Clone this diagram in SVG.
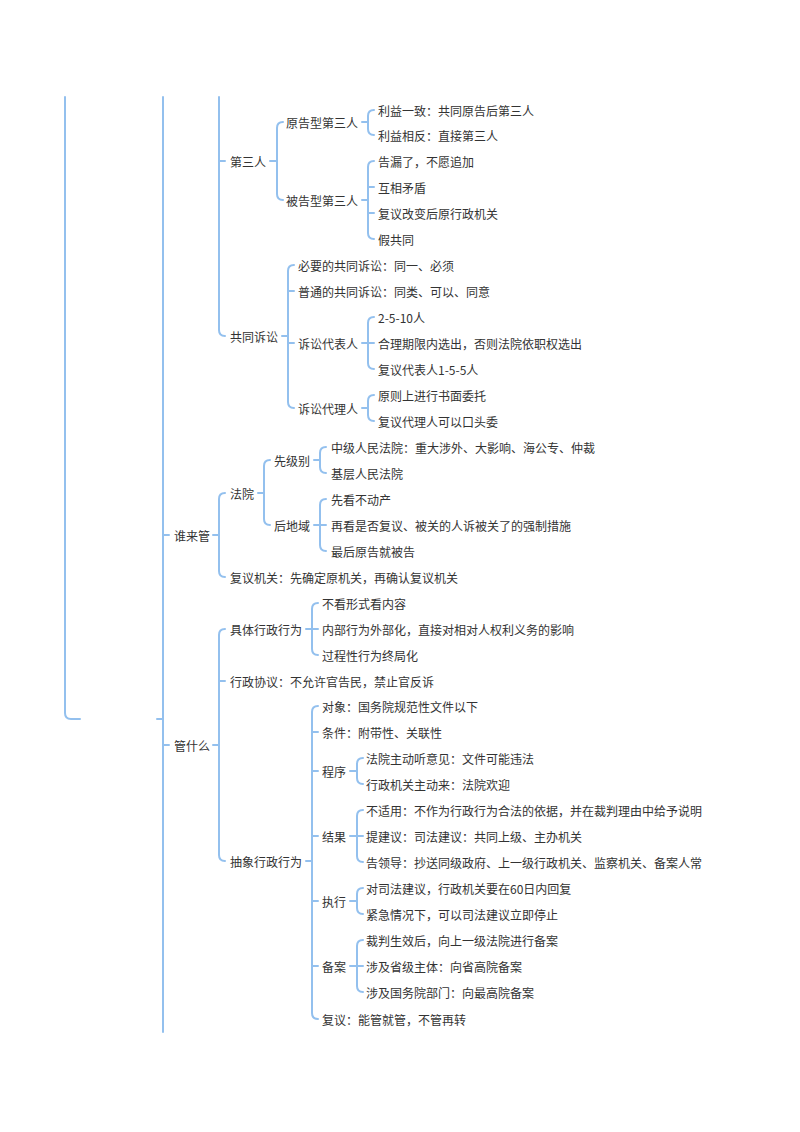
<svg xmlns="http://www.w3.org/2000/svg" width="800" height="1132" viewBox="0 0 800 1132">
<style>
.t{font-family:"Noto Sans CJK SC","Noto Sans",sans-serif;font-size:12px;fill:#333333;dominant-baseline:central}
.c{fill:none;stroke:#93c0ee;stroke-width:2;stroke-linecap:round}
</style>
<rect width="800" height="1132" fill="#ffffff"/>
<g id="connectors" class="c">
<path d="M65,97 V713 Q65,719 71,719 H80"/>
<path d="M163,97 V1032"/>
<path d="M157,719 H163"/>
<path d="M163,535 H169 M213,535 H219"/>
<path d="M163,745 H169 M213,745 H219"/>
<path d="M219,97 V330 Q219,336 225,336 M219,161 H225"/>
<path d="M270,161 H277 M283,122 Q277,122 277,128 V194 Q277,200 283,200"/>
<path d="M362,122 H368 M374,110 Q368,110 368,116 V129 Q368,135 374,135"/>
<path d="M362,200 H368 M374,161 Q368,161 368,167 V233 Q368,239 374,239 M368,187 H374 M368,213 H374"/>
<path d="M282,336 H288 M294,265 Q288,265 288,271 V402 Q288,408 294,408 M288,291 H294 M288,343 H294"/>
<path d="M362,343 H368 M374,317 Q368,317 368,323 V363 Q368,369 374,369 M368,343 H374"/>
<path d="M362,408 H368 M374,395 Q368,395 368,401 V415 Q368,421 374,421"/>
<path d="M225,493 Q219,493 219,499 V571 Q219,577 225,577"/>
<path d="M258,493 H264 M270,460 Q264,460 264,466 V519 Q264,525 270,525"/>
<path d="M314,460 H320 M326,447 Q320,447 320,453 V467 Q320,473 326,473"/>
<path d="M314,525 H320 M326,499 Q320,499 320,505 V545 Q320,551 326,551 M320,525 H326"/>
<path d="M225,629 Q219,629 219,635 V855 Q219,861 225,861 M219,681 H225"/>
<path d="M306,629 H312 M318,603 Q312,603 312,609 V649 Q312,655 318,655 M312,629 H318"/>
<path d="M306,861 H312 M318,706 Q312,706 312,712 V1013 Q312,1019 318,1019 M312,732 H318 M312,771 H318 M312,836 H318 M312,901 H318 M312,966 H318"/>
<path d="M350,771 H357 M363,758 Q357,758 357,764 V778 Q357,784 363,784"/>
<path d="M350,836 H357 M363,810 Q357,810 357,816 V856 Q357,862 363,862 M357,836 H363"/>
<path d="M350,901 H357 M363,888 Q357,888 357,894 V908 Q357,914 363,914"/>
<path d="M350,966 H357 M363,940 Q357,940 357,946 V986 Q357,992 363,992 M357,966 H363"/>
</g>
<g id="n-shuilaiguan"><text class="t" x="174" y="535">谁来管</text></g>
<g id="n-guanshenme"><text class="t" x="174" y="745">管什么</text></g>
<g id="n-disanren"><text class="t" x="230" y="161">第三人</text></g>
<g id="n-yuangaoxing"><text class="t" x="286" y="122">原告型第三人</text></g>
<g id="n-liyiyizhi"><text class="t" x="378" y="110">利益一致：共同原告后第三人</text></g>
<g id="n-liyixiangfan"><text class="t" x="378" y="135">利益相反：直接第三人</text></g>
<g id="n-beigaoxing"><text class="t" x="286" y="200">被告型第三人</text></g>
<g id="n-gaolou"><text class="t" x="378" y="161">告漏了，不愿追加</text></g>
<g id="n-huxiang"><text class="t" x="378" y="187">互相矛盾</text></g>
<g id="n-fuyigaibian"><text class="t" x="378" y="213">复议改变后原行政机关</text></g>
<g id="n-jiagongtong"><text class="t" x="378" y="239">假共同</text></g>
<g id="n-gongtongsusong"><text class="t" x="230" y="336">共同诉讼</text></g>
<g id="n-biyao"><text class="t" x="298" y="265">必要的共同诉讼：同一、必须</text></g>
<g id="n-putong"><text class="t" x="298" y="291">普通的共同诉讼：同类、可以、同意</text></g>
<g id="n-daibiaoren"><text class="t" x="298" y="343">诉讼代表人</text></g>
<g id="n-2510"><text class="t" x="378" y="317">2-5-10人</text></g>
<g id="n-heli"><text class="t" x="378" y="343">合理期限内选出，否则法院依职权选出</text></g>
<g id="n-fuyidaibiao"><text class="t" x="378" y="369">复议代表人1-5-5人</text></g>
<g id="n-dailiren"><text class="t" x="298" y="408">诉讼代理人</text></g>
<g id="n-yuanze"><text class="t" x="378" y="395">原则上进行书面委托</text></g>
<g id="n-fuyidaili"><text class="t" x="378" y="421">复议代理人可以口头委</text></g>
<g id="n-fayuan"><text class="t" x="230" y="493">法院</text></g>
<g id="n-xianjibie"><text class="t" x="274" y="460">先级别</text></g>
<g id="n-zhongji"><text class="t" x="331" y="447">中级人民法院：重大涉外、大影响、海公专、仲裁</text></g>
<g id="n-jiceng"><text class="t" x="331" y="473">基层人民法院</text></g>
<g id="n-houdiyu"><text class="t" x="274" y="525">后地域</text></g>
<g id="n-budongchan"><text class="t" x="331" y="499">先看不动产</text></g>
<g id="n-zaikan"><text class="t" x="331" y="525">再看是否复议、被关的人诉被关了的强制措施</text></g>
<g id="n-zuihou"><text class="t" x="331" y="551">最后原告就被告</text></g>
<g id="n-fuyijiguan"><text class="t" x="230" y="577">复议机关：先确定原机关，再确认复议机关</text></g>
<g id="n-juti"><text class="t" x="230" y="629">具体行政行为</text></g>
<g id="n-bukan"><text class="t" x="322" y="603">不看形式看内容</text></g>
<g id="n-neibu"><text class="t" x="322" y="629">内部行为外部化，直接对相对人权利义务的影响</text></g>
<g id="n-guocheng"><text class="t" x="322" y="655">过程性行为终局化</text></g>
<g id="n-xieyi"><text class="t" x="230" y="681">行政协议：不允许官告民，禁止官反诉</text></g>
<g id="n-chouxiang"><text class="t" x="230" y="861">抽象行政行为</text></g>
<g id="n-duixiang"><text class="t" x="322" y="706">对象：国务院规范性文件以下</text></g>
<g id="n-tiaojian"><text class="t" x="322" y="732">条件：附带性、关联性</text></g>
<g id="n-chengxu"><text class="t" x="322" y="771">程序</text></g>
<g id="n-tingyijian"><text class="t" x="366" y="758">法院主动听意见：文件可能违法</text></g>
<g id="n-zhudonglai"><text class="t" x="366" y="784">行政机关主动来：法院欢迎</text></g>
<g id="n-jieguo"><text class="t" x="322" y="836">结果</text></g>
<g id="n-bushiyong"><text class="t" x="366" y="810">不适用：不作为行政行为合法的依据，并在裁判理由中给予说明</text></g>
<g id="n-tijianyi"><text class="t" x="366" y="836">提建议：司法建议：共同上级、主办机关</text></g>
<g id="n-gaolingdao"><text class="t" x="366" y="862">告领导：抄送同级政府、上一级行政机关、监察机关、备案人常</text></g>
<g id="n-zhixing"><text class="t" x="322" y="901">执行</text></g>
<g id="n-60ri"><text class="t" x="366" y="888">对司法建议，行政机关要在60日内回复</text></g>
<g id="n-jinji"><text class="t" x="366" y="914">紧急情况下，可以司法建议立即停止</text></g>
<g id="n-beian"><text class="t" x="322" y="966">备案</text></g>
<g id="n-caipan"><text class="t" x="366" y="940">裁判生效后，向上一级法院进行备案</text></g>
<g id="n-shengji"><text class="t" x="366" y="966">涉及省级主体：向省高院备案</text></g>
<g id="n-guowuyuan"><text class="t" x="366" y="992">涉及国务院部门：向最高院备案</text></g>
<g id="n-fuyi"><text class="t" x="322" y="1019">复议：能管就管，不管再转</text></g>
</svg>
